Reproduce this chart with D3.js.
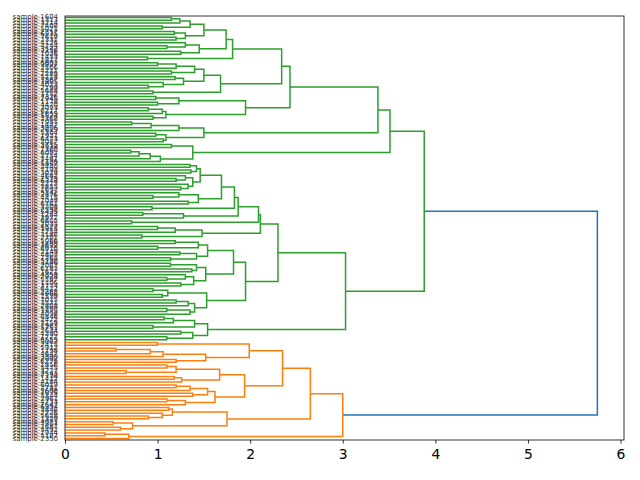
<!DOCTYPE html>
<html>
<head>
<meta charset="utf-8">
<script src="https://cdn.jsdelivr.net/npm/d3@7"></script>
<style>
body { margin: 0; background: #fff; }
text { font-family: "DejaVu Sans", sans-serif; }
</style>
</head>
<body>
<div id="chart"></div>
<script>
// sample ids of the leaves, listed top to bottom
var sampleIds = [
  1604, 1313, 3214, 7408, 5021, 2317, 6535, 7619, 2331, 4126,
  4244, 3142, 3258, 1026, 1433, 1817, 6802, 3927, 2506, 4211,
  1289, 5218, 3367, 1805, 4023, 2199, 5688, 1752, 7326, 2945,
  1178, 4470, 3093, 6217, 1859, 5524, 2368, 7081, 1447, 3906,
  2619, 5304, 1921, 6473, 2087, 3715, 4938, 1360, 6092, 2754,
  3481, 1136, 5867, 2440, 7193, 3029, 4682, 1573, 6348, 2213,
  3855, 1697, 5142, 2876, 4415, 1049, 6761, 3308, 2592, 5439,
  1284, 3971, 6605, 2035, 4527, 1918, 7254, 3186, 2701, 5066,
  1488, 3632, 6910, 2149, 4803, 1265, 5780, 3446, 2067, 6183,
  1621, 4359, 2928, 5597, 1106, 3774, 6422, 2283, 4966, 1539,
  7015, 3521, 2808, 5203, 1375, 4098, 6846, 2472, 3159, 1983,
  5751, 2634, 4290, 1727, 6559, 3063, 2415, 5912, 1198, 4647,
  3390, 2002, 6278, 1856, 5475, 3227, 2543, 7138, 1412, 4184,
  6019, 2791, 3608, 1076, 5344, 2961, 4733, 1647, 6394, 3846,
  2226, 5628, 1329, 4071, 7307, 2687, 3492, 1944, 5187, 2350
];
var leafLabels = sampleIds.map(function(n) { return "sample-" + n; });

// subtrees: [merge distance, upper child, lower child]; plain numbers are leaf indexes
var g1 = [1.81, [1.74, [1.50, [1.35, [1.24, [1.15, 0, 1], 2], [1.05, 3, 4]], [1.30, [1.18, 5, 6], [1.20, 7, 8]]], [1.45, [1.30, 9, [1.10, 10, 11]], [1.25, 12, 13]]], [0.89, 14, 15]];
var g2 = [1.68, [1.50, [1.40, [1.20, [1.00, 16, 17], 18], [1.15, 19, 20]], [1.28, [1.19, 21, 22], [1.06, 23, [0.90, 24, 25]]]], [0.95, 26, 27]];
var g3 = [1.95, [1.23, [0.98, 28, 29], [1.00, 30, 31]], [1.09, [1.05, [0.90, 32, 33], 34], [0.95, 35, 36]]];
var g4 = [1.50, [1.23, [0.93, [0.72, 37, 38], 39], 40], [1.09, [0.98, 41, 42], [1.06, 43, 44]]];
var g5 = [1.38, [1.15, 45, 46], [1.03, [0.92, [0.80, [0.71, 47, 48], 49], 50], 51]];
var c1 = [1.46, [1.42, [1.35, 52, 53], [1.36, 54, 55]], [1.38, [1.30, 56, [1.20, 57, 58]], [1.33, 59, [1.25, 60, 61]]]];
var c2 = [1.44, [1.23, 62, [0.95, 63, 64]], [1.33, 65, 66]];
var w1 = [1.48, [1.19, [1.00, 74, 75], 76], [0.83, 77, 78]];
var b1a = [2.11, [2.09, [1.87, [1.83, [1.69, c1, c2], [0.94, 67, 68]], [1.28, [0.84, 69, 70], 71]], [0.72, 72, 73]], w1];
var b1b = [1.95,
  [1.82, [1.54, [1.44, [1.19, 79, 80], [1.00, 81, 82]], [1.42, [1.24, 83, 84], [1.14, 85, 86]]],
         [1.52, [1.42, [1.14, 87, 88], [1.37, 89, 90]], [1.39, [1.30, 91, [1.10, 92, 93]], [1.25, 94, 95]]]],
  [1.53, [1.11, [0.95, 96, 97], [1.05, 98, 99]], [1.40, [1.33, [1.20, 100, 101], 102], [1.35, [1.10, 103, 104], 105]]]];
var b2 = [1.54, [1.40, [1.17, [1.07, 106, 107], 108], [0.95, 109, 110]], [1.38, [1.25, 111, 112], [1.10, 113, 114]]];
var o1 = [2.35,
  [1.99, [1.00, 115, 116], [1.52, [1.06, [0.92, [0.55, 117, 118], 119], 120], [1.20, 121, 122]]],
  [1.94, [1.67, [1.20, [1.10, 123, 124], [0.66, 125, 126]], [1.26, [1.18, 127, 128], 129]],
         [1.62, [1.54, [1.35, [1.20, 130, 131], 132], [1.38, 133, 134]], [1.30, [1.10, 135, 136], 137]]]];
var o2 = [1.75, [1.16, [1.12, 138, 139], [1.05, 140, [0.90, 141, 142]]], [0.73, [0.52, 143, 144], [0.60, 145, 146]]];
var o3 = [0.69, [0.43, 147, 148], 149];

var green = [3.88, [3.51, [3.38, [2.43, [2.34, g1, g2], g3], g4], g5], [3.03, [2.30, b1a, b1b], b2]];
var orange = [3.00, [2.65, o1, o2], o3];
var tree = [5.75, green, orange];

var xTicks = [0, 1, 2, 3, 4, 5, 6];
var clusterColors = ["#ff7f0e", "#2ca02c"];
var aboveColor = "#1f77b4";

var width = 640;
var height = 480;
var plotLeft = 65, plotRight = 624, plotTop = 16, plotBottom = 440;

var svg = d3.select("#chart")
    .append("svg")
    .attr("width", width)
    .attr("height", height);

var root = d3.hierarchy(tree, function(d) {
    return Array.isArray(d) ? [d[1], d[2]] : null;
});
root.eachAfter(function(n) {
    if (n.children) {
        n.h = n.data[0];
        n.pos = (n.children[0].pos + n.children[1].pos) / 2;
    } else {
        n.h = 0;
        n.pos = n.data + 0.5;
    }
});

var xScale = d3.scaleLinear()
    .domain([0, root.h * 1.05])
    .range([plotLeft, plotRight]);
var yScale = d3.scaleLinear()
    .domain([0, leafLabels.length])
    .range([plotTop, plotBottom]);

// colour clusters below 0.7 * max distance, like scipy does (bottom cluster first)
var threshold = 0.7 * root.h;
var clusters = root.descendants().filter(function(n) {
    return n.h < threshold && n.parent && n.parent.h >= threshold;
}).sort(function(a, b) { return b.pos - a.pos; });
clusters.forEach(function(c, i) {
    c.each(function(n) { n.color = clusterColors[i % clusterColors.length]; });
});

var links = root.descendants().filter(function(n) { return n.children; });

svg.selectAll("path.link")
    .data(links)
    .enter()
    .append("path")
    .attr("class", "link")
    .attr("fill", "none")
    .attr("stroke-width", 1.5)
    .attr("stroke", function(n) { return n.h >= threshold ? aboveColor : n.color; })
    .attr("d", function(n) {
        var a = n.children[0], b = n.children[1];
        return "M" + xScale(a.h) + "," + yScale(a.pos) +
            "H" + xScale(n.h) +
            "V" + yScale(b.pos) +
            "H" + xScale(b.h);
    });

// frame
svg.append("rect")
    .attr("x", plotLeft)
    .attr("y", plotTop)
    .attr("width", plotRight - plotLeft)
    .attr("height", plotBottom - plotTop)
    .attr("fill", "none")
    .attr("stroke", "#000")
    .attr("stroke-width", 0.8);

// x axis
var bottomAxis = d3.axisBottom(xScale)
    .tickValues(xTicks)
    .tickSize(3.5)
    .tickPadding(6)
    .tickFormat(d3.format("d"));
var gx = svg.append("g")
    .attr("transform", "translate(0," + plotBottom + ")")
    .call(bottomAxis);
gx.select(".domain").remove();
gx.selectAll("line").attr("stroke", "#000").attr("stroke-width", 0.8);
gx.selectAll("text")
    .attr("fill", "#000")
    .style("font-family", "DejaVu Sans")
    .style("font-size", "13.9px");

// leaf labels
svg.selectAll("text.leaf")
    .data(root.leaves())
    .enter()
    .append("text")
    .attr("class", "leaf")
    .attr("x", plotLeft - 7)
    .attr("y", function(d) { return yScale(d.pos); })
    .attr("text-anchor", "end")
    .attr("dominant-baseline", "central")
    .attr("font-size", 6.94)
    .attr("fill", "#333")
    .text(function(d) { return leafLabels[d.data]; });
</script>
</body>
</html>
